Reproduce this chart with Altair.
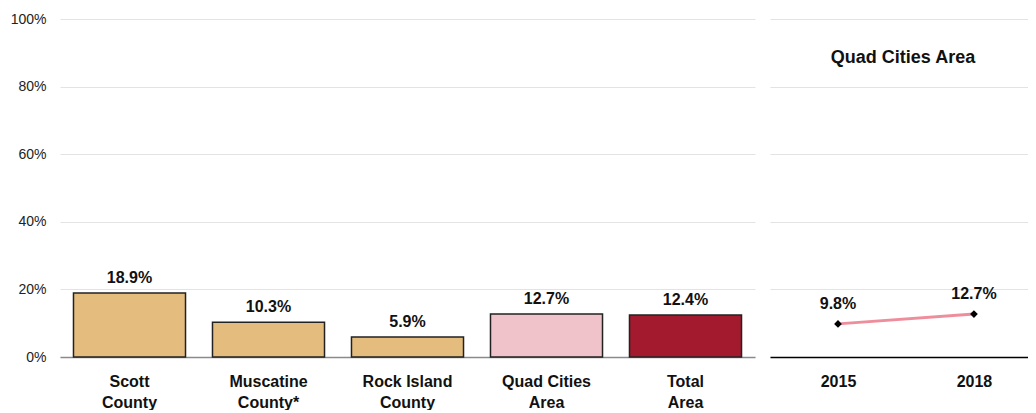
import altair as alt
import pandas as pd

categories = ["Scott County", "Muscatine County*", "Rock Island County", "Quad Cities Area", "Total Area"]
values = [18.9, 10.3, 5.9, 12.7, 12.4]
bar_colors = ["#E4BC7E", "#E4BC7E", "#E4BC7E", "#F0C2CA", "#A3192E"]

years = ["2015", "2018"]
trend = [9.8, 12.7]
panel_title = ["Quad Cities Area"]

FONT = "Liberation Sans"
GRID = "#E3E3E3"

bars_df = pd.DataFrame({"cat": categories, "val": values, "color": bar_colors})
trend_df = pd.DataFrame({"year": years, "val": trend})
title_df = pd.DataFrame({"t": panel_title})

yscale = alt.Scale(domain=[0, 100], nice=False)

y_left = alt.Y("val:Q", scale=yscale, title=None,
               axis=alt.Axis(values=[0, 20, 40, 60, 80, 100], labelExpr="datum.value + '%'",
                             labelFont=FONT, labelFontSize=14, labelColor="#222",
                             labelPadding=14, ticks=False, domain=False,
                             grid=True, gridColor=GRID, gridWidth=1.2))

label_expr = ("[slice(datum.value, 0, lastindexof(datum.value, ' ')), "
              "slice(datum.value, lastindexof(datum.value, ' ') + 1)]")

x_left = alt.X("cat:N", sort=categories, title=None,
               scale=alt.Scale(paddingInner=0.194, paddingOuter=0.097),
               axis=alt.Axis(labelAngle=0, labelExpr=label_expr, labelFont=FONT,
                             labelFontSize=16, labelFontWeight="bold", labelColor="#111",
                             labelLineHeight=21, labelPadding=16, ticks=False,
                             domain=True, domainColor="#8A8A8A", domainWidth=1.5))

base_left = alt.Chart(bars_df).transform_calculate(
    lbl="format(datum.val, '.1f') + '%'"
)

bars = base_left.mark_bar(stroke="#222", strokeWidth=1.5).encode(
    x=x_left,
    y=y_left,
    color=alt.Color("color:N", scale=None),
)
bar_text = base_left.mark_text(font=FONT, fontSize=16, fontWeight="bold", color="#111",
                               baseline="bottom", dy=-7).encode(
    x=alt.X("cat:N", sort=categories),
    y=alt.Y("val:Q", scale=yscale),
    text="lbl:N",
)
left = alt.layer(bars, bar_text).properties(width=695, height=338)

x_right = alt.X("year:N", title=None, sort=years,
                scale=alt.Scale(type="point", padding=0.449, align=0.557),
                axis=alt.Axis(labelAngle=0, labelFont=FONT, labelFontSize=16,
                              labelFontWeight="bold", labelColor="#111", labelPadding=16,
                              ticks=False, domain=True, domainColor="#000", domainWidth=1.5,
                              grid=False))
y_right = alt.Y("val:Q", scale=yscale, title=None,
                axis=alt.Axis(values=[0, 20, 40, 60, 80, 100], labels=False, ticks=False,
                              domain=False, grid=True, gridColor=GRID, gridWidth=1.2))

base_right = alt.Chart(trend_df).transform_calculate(
    lbl="format(datum.val, '.1f') + '%'"
)
line = base_right.mark_line(color="#EE8E9C", strokeWidth=3).encode(x=x_right, y=y_right)
pts = base_right.mark_point(shape="diamond", filled=True, color="#000", size=60, opacity=1).encode(
    x=alt.X("year:N", sort=years), y=alt.Y("val:Q", scale=yscale))
pt_text = base_right.mark_text(font=FONT, fontSize=16, fontWeight="bold", color="#111",
                               baseline="bottom", dy=-12).encode(
    x=alt.X("year:N", sort=years), y=alt.Y("val:Q", scale=yscale), text="lbl:N")
ttl = alt.Chart(title_df).mark_text(font=FONT, fontSize=18, fontWeight="bold", color="#111").encode(
    x=alt.value(133), y=alt.value(39), text="t:N")

right = alt.layer(line, pts, pt_text, ttl).properties(width=258, height=338)

chart = alt.hconcat(left, right, spacing=15).resolve_scale(y="shared").properties(
    padding={"left": 2, "top": 4, "right": 0, "bottom": 0},
    background="white",
).configure_view(stroke="transparent", strokeWidth=0)

chart.save("out.html", embed_options={"renderer": "svg", "actions": False})
